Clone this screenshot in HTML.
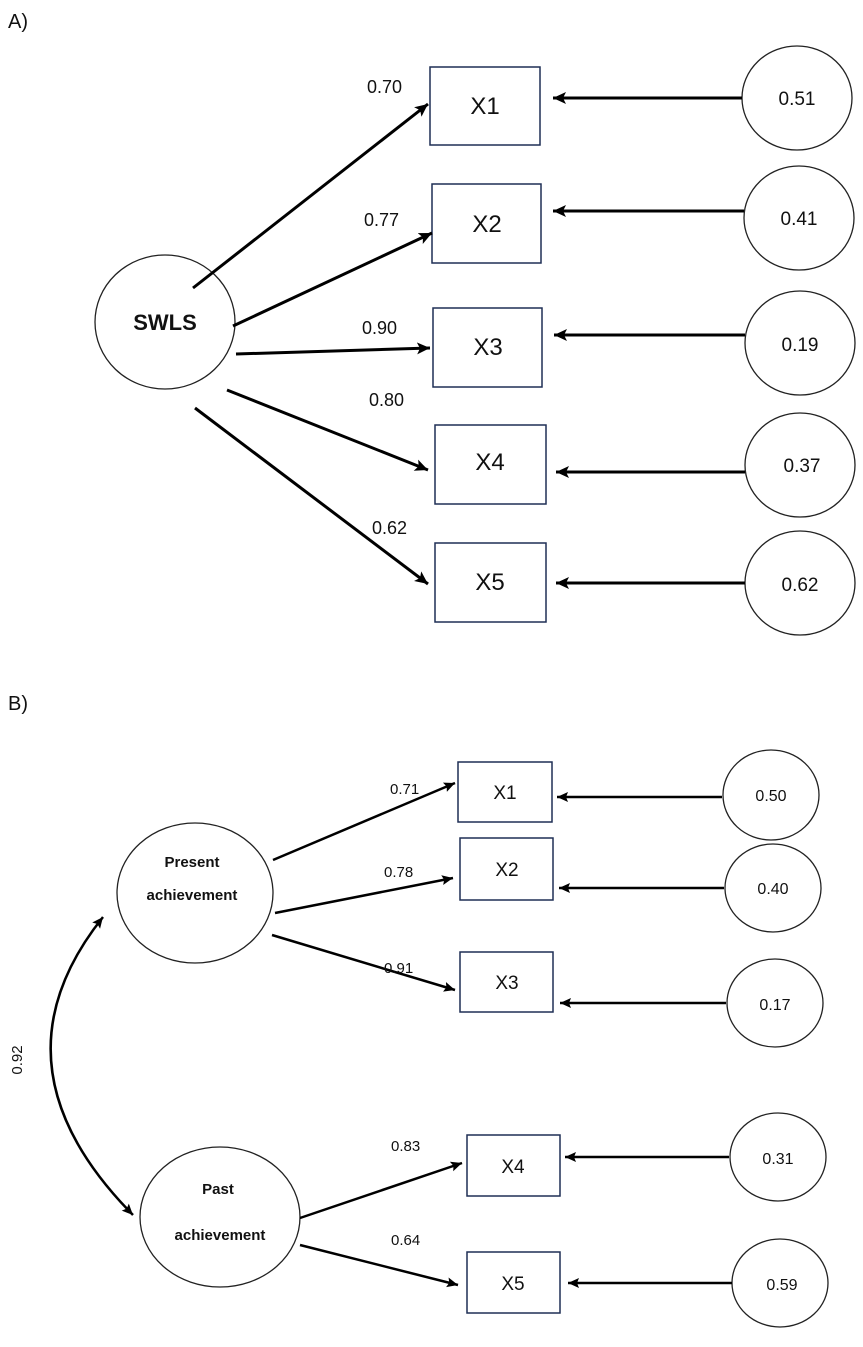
<!DOCTYPE html>
<html><head><meta charset="utf-8"><style>
body{margin:0;background:#fff}
svg text{font-family:"Liberation Sans",sans-serif;fill:#111}
</style></head><body>
<svg width="863" height="1342" viewBox="0 0 863 1342" xmlns="http://www.w3.org/2000/svg">
<defs><marker id="a" markerWidth="12" markerHeight="12" refX="11" refY="6" orient="auto-start-reverse" markerUnits="userSpaceOnUse"><path d="M0,1 L11,6 L0,11 L2,6 z" fill="#000"/></marker>
<marker id="b" markerWidth="14" markerHeight="14" refX="13" refY="7" orient="auto" markerUnits="userSpaceOnUse"><path d="M0,1 L13,7 L0,13 L3,7 z" fill="#000"/></marker></defs>
<text x="8" y="28" font-size="20">A)</text>
<g fill="#fff" stroke="#1f2f55" stroke-width="1.5">
<rect x="430" y="67" width="110" height="78"/><rect x="432" y="184" width="109" height="79"/><rect x="433" y="308" width="109" height="79"/><rect x="435" y="425" width="111" height="79"/><rect x="435" y="543" width="111" height="79"/>
</g>
<g fill="#fff" stroke="#222" stroke-width="1.3">
<ellipse cx="165" cy="322" rx="70" ry="67"/>
<ellipse cx="797" cy="98" rx="55" ry="52"/><ellipse cx="799" cy="218" rx="55" ry="52"/><ellipse cx="800" cy="343" rx="55" ry="52"/><ellipse cx="800" cy="465" rx="55" ry="52"/><ellipse cx="800" cy="583" rx="55" ry="52"/>
</g>
<g stroke="#000" stroke-width="3" marker-end="url(#b)">
<line x1="193" y1="288" x2="428" y2="104"/><line x1="233" y1="326" x2="432" y2="233"/><line x1="236" y1="354" x2="430" y2="348"/><line x1="227" y1="390" x2="428" y2="470"/><line x1="195" y1="408" x2="428" y2="584"/>
<line x1="742" y1="98" x2="553" y2="98"/><line x1="744" y1="211" x2="553" y2="211"/><line x1="745" y1="335" x2="554" y2="335"/><line x1="745" y1="472" x2="556" y2="472"/><line x1="745" y1="583" x2="556" y2="583"/>
</g>
<g font-size="18">
<text x="367" y="93">0.70</text><text x="364" y="226">0.77</text><text x="362" y="334">0.90</text><text x="369" y="406">0.80</text><text x="372" y="534">0.62</text>
</g>
<g font-size="24" text-anchor="middle">
<text x="485" y="114">X1</text><text x="487" y="232">X2</text><text x="488" y="355">X3</text><text x="490" y="470">X4</text><text x="490" y="590">X5</text>
</g>
<text x="165" y="330" font-size="22" font-weight="bold" text-anchor="middle">SWLS</text>
<g font-size="19" text-anchor="middle">
<text x="797" y="105">0.51</text><text x="799" y="225">0.41</text><text x="800" y="351">0.19</text><text x="802" y="472">0.37</text><text x="800" y="591">0.62</text>
</g>

<text x="8" y="710" font-size="20">B)</text>
<g fill="#fff" stroke="#1f2f55" stroke-width="1.5">
<rect x="458" y="762" width="94" height="60"/><rect x="460" y="838" width="93" height="62"/><rect x="460" y="952" width="93" height="60"/><rect x="467" y="1135" width="93" height="61"/><rect x="467" y="1252" width="93" height="61"/>
</g>
<g fill="#fff" stroke="#222" stroke-width="1.3">
<ellipse cx="195" cy="893" rx="78" ry="70"/><ellipse cx="220" cy="1217" rx="80" ry="70"/>
<ellipse cx="771" cy="795" rx="48" ry="45"/><ellipse cx="773" cy="888" rx="48" ry="44"/><ellipse cx="775" cy="1003" rx="48" ry="44"/><ellipse cx="778" cy="1157" rx="48" ry="44"/><ellipse cx="780" cy="1283" rx="48" ry="44"/>
</g>
<g stroke="#000" stroke-width="2.5" marker-end="url(#a)">
<line x1="273" y1="860" x2="455" y2="783"/><line x1="275" y1="913" x2="453" y2="878"/><line x1="272" y1="935" x2="455" y2="990"/>
<line x1="300" y1="1218" x2="462" y2="1163"/><line x1="300" y1="1245" x2="458" y2="1285"/>
<line x1="722" y1="797" x2="557" y2="797"/><line x1="724" y1="888" x2="559" y2="888"/><line x1="726" y1="1003" x2="560" y2="1003"/><line x1="729" y1="1157" x2="565" y2="1157"/><line x1="732" y1="1283" x2="568" y2="1283"/>
</g>
<path d="M103,917 Q-15,1065 133,1215" fill="none" stroke="#000" stroke-width="2.5" marker-end="url(#a)" marker-start="url(#a)"/>
<g font-size="15">
<text x="390" y="794">0.71</text><text x="384" y="877">0.78</text><text x="384" y="973">0.91</text><text x="391" y="1151">0.83</text><text x="391" y="1245">0.64</text>
</g>
<text transform="translate(22,1060) rotate(-90)" font-size="15" text-anchor="middle">0.92</text>
<g font-size="19" text-anchor="middle">
<text x="505" y="799">X1</text><text x="507" y="876">X2</text><text x="507" y="989">X3</text><text x="513" y="1173">X4</text><text x="513" y="1290">X5</text>
</g>
<g font-size="15" text-anchor="middle" font-weight="bold">
<text x="192" y="867">Present</text><text x="192" y="900">achievement</text><text x="218" y="1194">Past</text><text x="220" y="1240">achievement</text>
</g>
<g font-size="16" text-anchor="middle">
<text x="771" y="801">0.50</text><text x="773" y="894">0.40</text><text x="775" y="1010">0.17</text><text x="778" y="1164">0.31</text><text x="782" y="1290">0.59</text>
</g>
</svg>
</body></html>
